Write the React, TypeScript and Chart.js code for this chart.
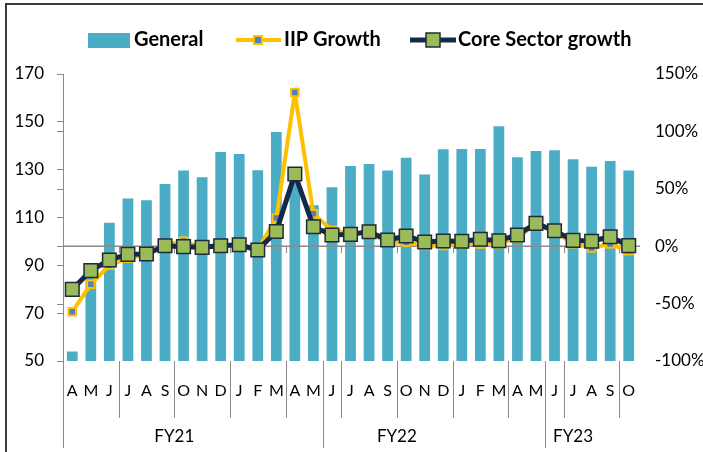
import { useEffect, useRef } from 'react';
import { Chart, registerables } from 'chart.js';

Chart.register(...registerables);

// ---- data ----
const months = ['A','M','J','J','A','S','O','N','D','J','F','M','A','M','J','J','A','S','O','N','D','J','F','M','A','M','J','J','A','S','O'];
const general = [54.0, 89.5, 107.8, 117.9, 117.2, 124.0, 129.6, 126.8, 137.4, 136.5, 129.8, 145.7, 126.6, 115.1, 122.7, 131.5, 132.4, 129.6, 135.0, 128.0, 138.5, 138.6, 138.6, 148.2, 135.2, 137.8, 138.1, 134.4, 131.2, 133.6, 129.6];
const iipGrowth = [-57.0, -33.2, -16.6, -10.5, -7.1, 1.0, 4.5, -1.6, 2.2, -0.6, -3.2, 24.5, 133.8, 28.2, 13.8, 11.5, 12.0, 3.3, 3.5, 0.5, 0.5, 2.0, 1.9, 2.2, 7.1, 19.7, 12.7, 2.2, -1.5, 2.0, -4.0];
const coreGrowth = [-37.6, -21.3, -12.0, -7.1, -6.8, 0.4, -0.4, -1.0, 0.4, 1.3, -3.3, 12.8, 62.9, 17.0, 9.8, 10.3, 12.6, 5.4, 8.9, 3.7, 4.5, 4.3, 6.0, 4.8, 9.8, 19.9, 13.5, 5.1, 4.3, 8.3, 0.5];
const leftTicks = [50, 70, 90, 110, 130, 150, 170];
const rightTicks = [-100, -50, 0, 50, 100, 150];
const fyLabels = ['FY21', 'FY22', 'FY23'];
const fyStarts = [0, 12, 24];
const fySeparators = [0, 14, 26];
const seriesNames = ['General', 'IIP Growth', 'Core Sector growth'];

const FONT = 'Lato, "Open Sans", sans-serif';
const BAR = '#4BACC6';
const YEL = '#FFC000';
const NAVY = '#14284A';
const GREEN = '#9BBB59';
const MBLUE = '#4F81BD';

const decor = {
  id: 'decor',
  afterDatasetDraw(chart: any, args: any) {
    if (args.index !== 0) return;
    const { ctx, chartArea, scales } = chart;
    const y0 = scales.y1.getPixelForValue(0);
    const x = scales.x;
    const step = x.getPixelForValue(1) - x.getPixelForValue(0);
    const bx = (b: number) => x.getPixelForValue(0) - step / 2 + b * step;
    ctx.save();
    ctx.strokeStyle = '#8a8a8a';
    ctx.lineWidth = 1.5;
    ctx.beginPath();
    ctx.moveTo(chartArea.left, y0);
    ctx.lineTo(chartArea.right + 2, y0);
    ctx.stroke();
    ctx.lineWidth = 1;
    for (let b = 3; b < months.length; b += 3) {
      ctx.beginPath();
      ctx.moveTo(Math.round(bx(b)) + 0.5, y0);
      ctx.lineTo(Math.round(bx(b)) + 0.5, y0 + 7);
      ctx.stroke();
    }
    ctx.restore();
  },
  afterDraw(chart: any) {
    const { ctx, chartArea, scales } = chart;
    const x = scales.x;
    const step = x.getPixelForValue(1) - x.getPixelForValue(0);
    const bx = (b: number) => x.getPixelForValue(0) - step / 2 + b * step;
    const bottom = chartArea.bottom;
    ctx.save();
    // category separators
    ctx.strokeStyle = '#8a8a8a';
    ctx.lineWidth = 1;
    for (let b = 0; b < months.length; b += 3) {
      const px = Math.round(bx(b)) + 0.5;
      ctx.beginPath();
      ctx.moveTo(px, bottom);
      ctx.lineTo(px, bottom + 57);
      ctx.stroke();
    }
    fySeparators.forEach((b) => {
      const px = Math.round(bx(b)) + 0.5;
      ctx.beginPath();
      ctx.moveTo(px, bottom);
      ctx.lineTo(px, bottom + 87);
      ctx.stroke();
    });
    // FY labels
    ctx.fillStyle = '#000';
    ctx.font = `17px ${FONT}`;
    ctx.textAlign = 'center';
    ctx.textBaseline = 'middle';
    fyLabels.forEach((lab, i) => {
      const s = fyStarts[i];
      const e = i + 1 < fyStarts.length ? fyStarts[i + 1] : months.length;
      ctx.fillText(lab, bx((s + e) / 2), bottom + 76);
    });
    // extra ticks on left axis for secondary values
    const y1 = scales.y1;
    ctx.strokeStyle = '#8a8a8a';
    rightTicks.forEach((v) => {
      const py = Math.round(y1.getPixelForValue(v)) + 0.5;
      ctx.beginPath();
      ctx.moveTo(chartArea.left - 6, py);
      ctx.lineTo(chartArea.left, py);
      ctx.stroke();
    });
    // outer frame
    ctx.strokeStyle = '#3a3a3a';
    ctx.lineWidth = 2;
    ctx.beginPath();
    ctx.moveTo(6, 452);
    ctx.lineTo(6, 4);
    ctx.lineTo(703, 4);
    ctx.stroke();
    // legend
    const ly = 40;
    ctx.font = `bold 20px ${FONT}`;
    ctx.textAlign = 'left';
    ctx.fillStyle = BAR;
    ctx.fillRect(88, 33, 42, 15);
    ctx.fillStyle = '#000';
    ctx.fillText(seriesNames[0], 134, ly);
    // IIP
    ctx.strokeStyle = YEL;
    ctx.lineWidth = 4;
    ctx.beginPath();
    ctx.moveTo(236, ly);
    ctx.lineTo(281, ly);
    ctx.stroke();
    ctx.fillStyle = MBLUE;
    ctx.fillRect(254, ly - 4, 8, 8);
    ctx.lineWidth = 2;
    ctx.strokeRect(254, ly - 4, 8, 8);
    ctx.fillStyle = '#000';
    ctx.fillText(seriesNames[1], 284, ly);
    // Core
    ctx.strokeStyle = NAVY;
    ctx.lineWidth = 5;
    ctx.beginPath();
    ctx.moveTo(410, ly);
    ctx.lineTo(456, ly);
    ctx.stroke();
    ctx.fillStyle = GREEN;
    ctx.fillRect(426, ly - 7, 14, 14);
    ctx.lineWidth = 1.5;
    ctx.strokeStyle = '#1d2b3a';
    ctx.strokeRect(426, ly - 7, 14, 14);
    ctx.fillStyle = '#000';
    ctx.fillText(seriesNames[2], 458, ly);
    ctx.restore();
  },
};

export default function App() {
  const ref = useRef<HTMLCanvasElement | null>(null);
  useEffect(() => {
    if (!ref.current) return;
    const chart = new Chart(ref.current, {
      type: 'bar',
      data: {
        labels: months,
        datasets: [
          {
            type: 'bar',
            label: seriesNames[0],
            data: general,
            backgroundColor: BAR,
            yAxisID: 'y',
            categoryPercentage: 1,
            barPercentage: 0.58,
            order: 3,
          },
          {
            type: 'line',
            label: seriesNames[1],
            data: iipGrowth,
            yAxisID: 'y1',
            borderColor: YEL,
            borderWidth: 4,
            borderJoinStyle: 'round',
            pointStyle: 'rect',
            pointRadius: 5.3,
            pointBackgroundColor: MBLUE,
            pointBorderColor: YEL,
            pointBorderWidth: 2,
            tension: 0,
            order: 2,
          },
          {
            type: 'line',
            label: seriesNames[2],
            data: coreGrowth,
            yAxisID: 'y1',
            borderColor: NAVY,
            borderWidth: 5,
            borderJoinStyle: 'round',
            pointStyle: 'rect',
            pointRadius: 9.6,
            pointBackgroundColor: GREEN,
            pointBorderColor: '#1d2b3a',
            pointBorderWidth: 1.5,
            tension: 0,
            order: 1,
          },
        ] as any,
      },
      options: {
        responsive: false,
        animation: false,
        devicePixelRatio: 1,
        layout: { padding: { top: 74, left: 0, right: 0, bottom: 0 } },
        plugins: { legend: { display: false }, tooltip: { enabled: false } },
        scales: {
          x: {
            type: 'category',
            offset: true,
            grid: { display: false, drawTicks: false },
            border: { display: false },
            ticks: {
              autoSkip: false,
              maxRotation: 0,
              padding: 20,
              color: '#000',
              font: { family: FONT, size: 16 },
            },
            afterFit: (s: any) => { s.height = 91; },
          },
          y: {
            position: 'left',
            min: 50,
            max: 170,
            afterBuildTicks: (s: any) => { s.ticks = leftTicks.map((v) => ({ value: v })); },
            grid: { drawOnChartArea: false, drawTicks: true, tickLength: 6, color: '#8a8a8a' },
            border: { display: true, color: '#8a8a8a', width: 1 },
            ticks: { padding: 13, color: '#000', font: { family: FONT, size: 17 } },
            afterFit: (s: any) => { s.width = 63; },
          },
          y1: {
            position: 'right',
            min: -100,
            max: 150,
            afterBuildTicks: (s: any) => { s.ticks = rightTicks.map((v) => ({ value: v })); },
            grid: { display: false, drawTicks: false },
            border: { display: false },
            ticks: {
              padding: 17,
              color: '#000',
              font: { family: FONT, size: 17 },
              callback: (v: any) => `${v}%`,
            },
            afterFit: (s: any) => { s.width = 65; },
          },
        },
      } as any,
      plugins: [decor],
    });
    return () => chart.destroy();
  }, []);
  return (
    <div style={{ position: 'absolute', left: 0, top: 0, width: 703, height: 452, background: '#fff' }}>
      <canvas ref={ref} width={703} height={452} style={{ display: 'block' }} />
    </div>
  );
}
